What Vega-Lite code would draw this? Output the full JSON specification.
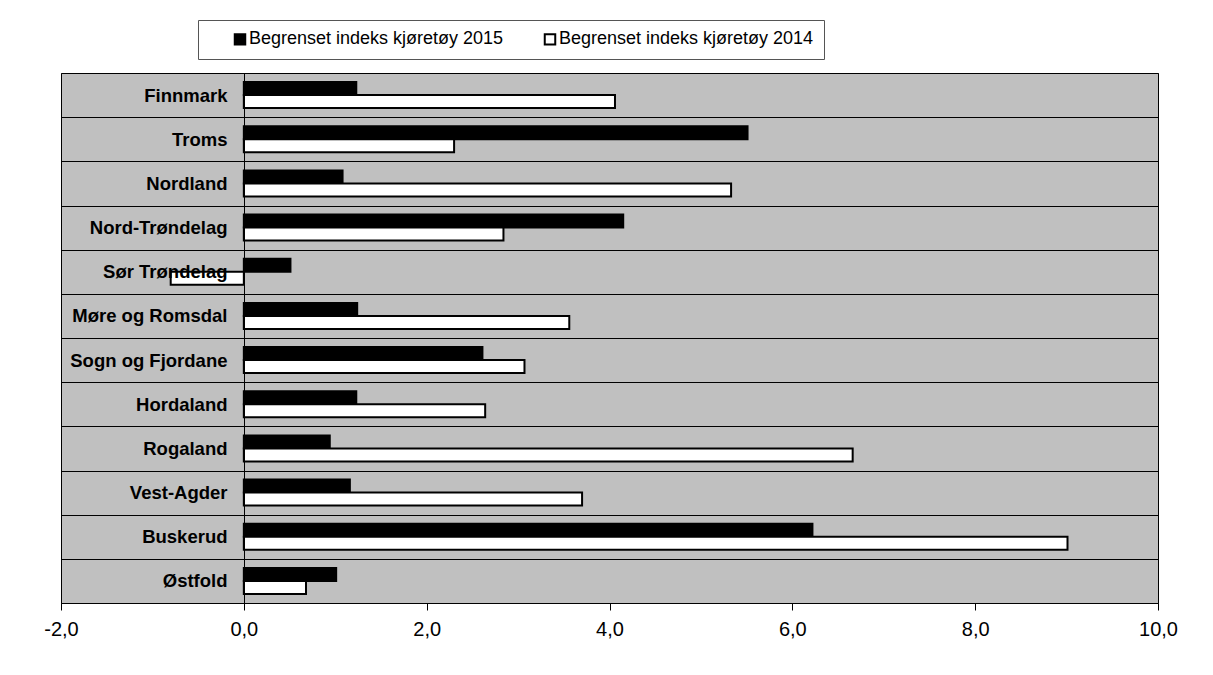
{
  "$schema": "https://vega.github.io/schema/vega-lite/v6.json",
  "autosize": {"type": "none"},
  "width": 1097,
  "height": 530,
  "padding": {"left": 61, "top": 73, "right": 55, "bottom": 72},
  "background": "white",
  "config": {
    "font": "Liberation Sans",
    "view": {"fill": "#c0c0c0", "stroke": "black", "strokeWidth": 1}
  },
  "data": {
    "values": [
      {"fylke": "Finnmark", "aar": "Begrenset indeks kjøretøy 2015", "verdi": 1.23},
      {"fylke": "Finnmark", "aar": "Begrenset indeks kjøretøy 2014", "verdi": 4.06},
      {"fylke": "Troms", "aar": "Begrenset indeks kjøretøy 2015", "verdi": 5.51},
      {"fylke": "Troms", "aar": "Begrenset indeks kjøretøy 2014", "verdi": 2.30},
      {"fylke": "Nordland", "aar": "Begrenset indeks kjøretøy 2015", "verdi": 1.08},
      {"fylke": "Nordland", "aar": "Begrenset indeks kjøretøy 2014", "verdi": 5.33},
      {"fylke": "Nord-Trøndelag", "aar": "Begrenset indeks kjøretøy 2015", "verdi": 4.15},
      {"fylke": "Nord-Trøndelag", "aar": "Begrenset indeks kjøretøy 2014", "verdi": 2.84},
      {"fylke": "Sør Trøndelag", "aar": "Begrenset indeks kjøretøy 2015", "verdi": 0.51},
      {"fylke": "Sør Trøndelag", "aar": "Begrenset indeks kjøretøy 2014", "verdi": -0.80},
      {"fylke": "Møre og Romsdal", "aar": "Begrenset indeks kjøretøy 2015", "verdi": 1.24},
      {"fylke": "Møre og Romsdal", "aar": "Begrenset indeks kjøretøy 2014", "verdi": 3.56},
      {"fylke": "Sogn og Fjordane", "aar": "Begrenset indeks kjøretøy 2015", "verdi": 2.61},
      {"fylke": "Sogn og Fjordane", "aar": "Begrenset indeks kjøretøy 2014", "verdi": 3.07},
      {"fylke": "Hordaland", "aar": "Begrenset indeks kjøretøy 2015", "verdi": 1.23},
      {"fylke": "Hordaland", "aar": "Begrenset indeks kjøretøy 2014", "verdi": 2.64},
      {"fylke": "Rogaland", "aar": "Begrenset indeks kjøretøy 2015", "verdi": 0.94},
      {"fylke": "Rogaland", "aar": "Begrenset indeks kjøretøy 2014", "verdi": 6.66},
      {"fylke": "Vest-Agder", "aar": "Begrenset indeks kjøretøy 2015", "verdi": 1.16},
      {"fylke": "Vest-Agder", "aar": "Begrenset indeks kjøretøy 2014", "verdi": 3.70},
      {"fylke": "Buskerud", "aar": "Begrenset indeks kjøretøy 2015", "verdi": 6.22},
      {"fylke": "Buskerud", "aar": "Begrenset indeks kjøretøy 2014", "verdi": 9.01},
      {"fylke": "Østfold", "aar": "Begrenset indeks kjøretøy 2015", "verdi": 1.01},
      {"fylke": "Østfold", "aar": "Begrenset indeks kjøretøy 2014", "verdi": 0.68}
    ]
  },
  "mark": {"type": "bar", "stroke": "black", "strokeWidth": 2},
  "encoding": {
    "y": {
      "field": "fylke",
      "type": "nominal",
      "sort": null,
      "scale": {"paddingInner": 0, "paddingOuter": 0},
      "axis": {
        "title": null,
        "offset": -183,
        "zindex": 1,
        "domain": true,
        "domainColor": "black",
        "domainWidth": 1,
        "ticks": false,
        "tickBand": "extent",
        "grid": true,
        "gridColor": "black",
        "gridWidth": 1,
        "gridOpacity": 1,
        "labelFont": "Liberation Sans",
        "labelFontSize": 18.5,
        "labelFontWeight": "bold",
        "labelColor": "black",
        "labelPadding": 17,
        "labelLimit": 400
      }
    },
    "yOffset": {
      "field": "aar",
      "type": "nominal",
      "scale": {"domain": ["Begrenset indeks kjøretøy 2015", "Begrenset indeks kjøretøy 2014"], "paddingInner": 0, "paddingOuter": 0.7}
    },
    "x": {
      "field": "verdi",
      "type": "quantitative",
      "scale": {"domain": [-2, 10], "nice": false, "zero": false},
      "axis": {
        "title": null,
        "values": [-2, 0, 2, 4, 6, 8, 10],
        "labelExpr": "replace(replace(format(datum.value, '.1f'), '.', ','), '\u2212', '-')",
        "grid": false,
        "domain": true,
        "domainColor": "black",
        "ticks": true,
        "tickColor": "black",
        "tickSize": 7,
        "labelFont": "Liberation Sans",
        "labelFontSize": 20,
        "labelColor": "black",
        "labelPadding": 9,
        "labelFlush": false
      }
    },
    "fill": {
      "field": "aar",
      "type": "nominal",
      "scale": {"domain": ["Begrenset indeks kjøretøy 2015", "Begrenset indeks kjøretøy 2014"], "range": ["black", "white"]},
      "legend": {
        "title": null,
        "orient": "none",
        "legendX": 137,
        "legendY": -53,
        "direction": "horizontal",
        "columns": 2,
        "fillColor": "white",
        "strokeColor": "#555555",
        "padding": 10,
        "columnPadding": 14,
        "symbolType": "square",
        "symbolSize": 110,
        "symbolStrokeColor": "black",
        "symbolStrokeWidth": 2,
        "symbolOffset": 23,
        "labelOffset": 0,
        "labelFont": "Liberation Sans",
        "labelFontSize": 18,
        "labelColor": "black",
        "labelLimit": 400
      }
    }
  }
}
